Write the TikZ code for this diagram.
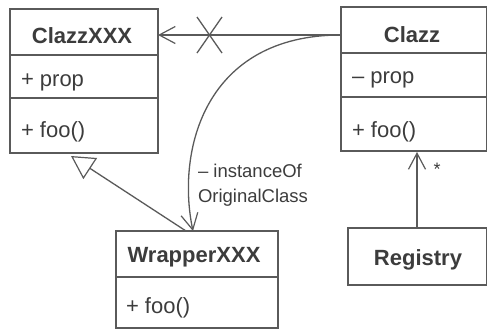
\documentclass[tikz,border=0pt]{standalone}
\usepackage{fontspec}
\setmainfont{Liberation Sans}
\usetikzlibrary{arrows.meta}
\definecolor{ink}{HTML}{3C3C3C}
\definecolor{edge}{HTML}{5A5A5A}
\begin{document}
\begin{tikzpicture}[x=1pt,y=-1pt,
  every node/.style={inner sep=0pt, outer sep=0pt, text=ink},
  part/.style={draw=edge, line width=1.3pt, rectangle, anchor=north west},
  title/.style={anchor=base, font=\fontsize{22}{26}\selectfont\bfseries},
  member/.style={anchor=base west, font=\fontsize{22}{26}\selectfont},
  note/.style={anchor=base west, font=\fontsize{18.5}{22}\selectfont},
  link/.style={draw=edge, line width=1.3pt},
  barb/.style={-{Straight Barb[length=16pt,width=17pt,line width=1.2pt]}},
  inherit/.style={-{Triangle[open,fill=white,length=23pt,width=25pt,line width=1.2pt]}}]
\useasboundingbox (0,0) rectangle (488,330);

% ClazzXXX
\node[part, minimum width=148pt, minimum height=46pt] (xhead) at (10,9) {};
\node[part, minimum width=148pt, minimum height=43pt] (xprop) at (10,55) {};
\node[part, minimum width=148pt, minimum height=55pt] (xops) at (10,98) {};
\node[title] (xname) at (82,43) {ClazzXXX};
\node[member] (xp) at (21,86) {+ prop};
\node[member] (xf) at (21,137) {+ foo()};

% Clazz
\node[part, minimum width=145.5pt, minimum height=46pt] (chead) at (341,7) {};
\node[part, minimum width=145.5pt, minimum height=44pt] (cprop) at (341,53) {};
\node[part, minimum width=145.5pt, minimum height=54pt] (cops) at (341,97) {};
\node[title] (cname) at (412,42) {Clazz};
\node[member] (cp) at (352,83) {– prop};
\node[member] (cf) at (352,137) {+ foo()};

% WrapperXXX
\node[part, minimum width=162pt, minimum height=46pt] (whead) at (116,231) {};
\node[part, minimum width=162pt, minimum height=51pt] (wops) at (116,277) {};
\node[title] (wname) at (194,262) {WrapperXXX};
\node[member] (wf) at (126,313) {+ foo()};

% Registry
\node[part, minimum width=138.5pt, minimum height=57pt] (reg) at (348,228) {};
\node[title] (rname) at (418,265) {Registry};

% attachment points
\coordinate (navfrom) at (chead.west |- 0,35);
\coordinate (navto) at (xhead.east |- 0,35);
\coordinate (wrapin) at (193,231);
\coordinate (genfrom) at (186,231);
\coordinate (gento) at (71,156);
\coordinate (regfrom) at (417,228);
\coordinate (regto) at (417,152);

% non-navigable association
\draw[link, barb] (navfrom) -- (navto);
\coordinate (xc) at (209.5,35);
\draw[link] ([shift={(-12.5,-18)}]xc) -- ([shift={(12.5,18)}]xc);
\draw[link] ([shift={(12.5,-18)}]xc) -- ([shift={(-12.5,18)}]xc);

% wrapped instance
\draw[link, barb] (navfrom) .. controls (205,35) and (176,150) .. (wrapin);
\node[note] (lbl1) at (198,177) {– instanceOf};
\node[note] (lbl2) at (198,202) {OriginalClass};

% generalization
\draw[link, inherit] (genfrom) -- (gento);

% registry association
\draw[link, barb] (regfrom) -- (regto);
\node[anchor=base, font=\fontsize{18}{22}\selectfont] (mult) at (437,175) {*};
\end{tikzpicture}
\end{document}
